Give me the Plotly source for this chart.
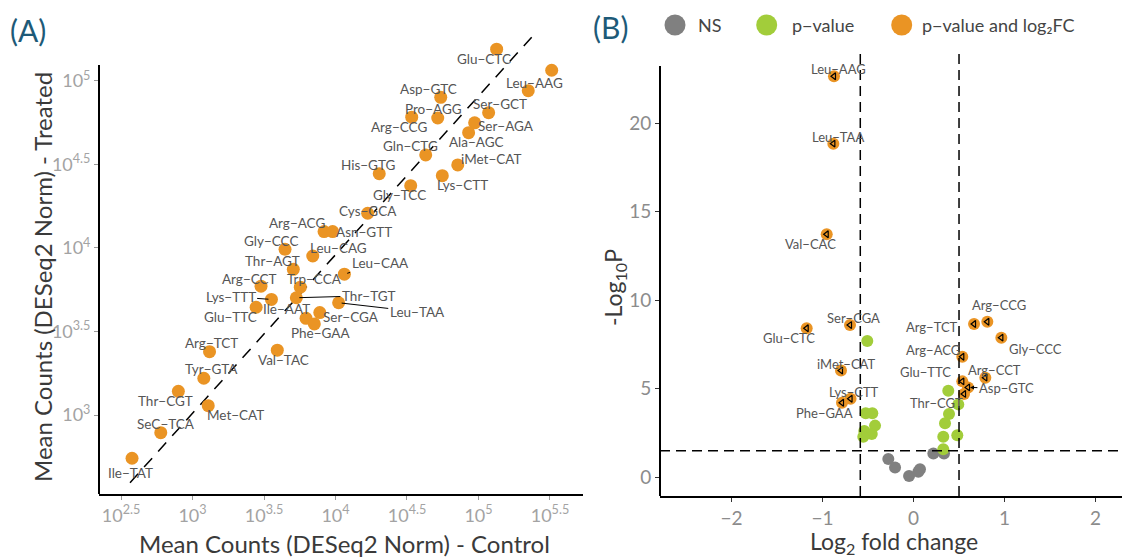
import plotly.graph_objects as go

W, H = 1125, 558
FONT = "Lato"
ORANGE = "#EA9424"
GREEN = "#A2CD3A"
GREY = "#808080"
TEAL = "#1D5A78"
LABEL_C = "#555555"

# ---------------- Panel A data (log10 mean normalised counts) ----------------
trna_a = ["Glu−CTC", "Val−CAC", "Leu−AAG", "Asp−GTC", "Arg−CCG", "Pro−AGG", "Ser−GCT",
          "Ser−AGA", "Ala−AGC", "Gln−CTG", "iMet−CAT", "His−GTG", "Lys−CTT", "Gly−TCC",
          "Cys−GCA", "Arg−ACG", "Asn−GTT", "Gly−CCC", "Leu−CAG", "Thr−AGT", "Leu−CAA",
          "Arg−CCT", "Trp−CCA", "Lys−TTT", "Thr−TGT", "Leu−TAA", "Glu−TTC", "Ile−AAT",
          "Ser−CGA", "Phe−GAA", "Val−TAC", "Arg−TCT", "Tyr−GTA", "Thr−CGT", "Met−CAT",
          "SeC−TCA", "Ile−TAT"]
log10_control = [5.127, 5.512, 5.348, 4.736, 4.533, 4.715, 5.071, 4.973, 4.931, 4.631,
                 4.855, 4.306, 4.747, 4.526, 4.225, 3.920, 3.980, 3.647, 3.841, 3.705,
                 4.062, 3.479, 3.754, 3.552, 3.726, 4.022, 3.445, 3.794, 3.890, 3.852,
                 3.593, 3.119, 3.079, 2.901, 3.110, 2.778, 2.577]
log10_treated = [5.190, 5.064, 4.942, 4.902, 4.783, 4.778, 4.810, 4.749, 4.690, 4.557,
                 4.497, 4.445, 4.433, 4.373, 4.208, 4.098, 4.098, 3.992, 3.952, 3.872,
                 3.843, 3.771, 3.765, 3.692, 3.702, 3.672, 3.645, 3.579, 3.613, 3.545,
                 3.388, 3.379, 3.220, 3.142, 3.056, 2.894, 2.741]
labelled_a = [True, False] + [True] * 35
# dashed reference line end points (log10 control, log10 treated)
ref_x = [2.563, 5.372]
ref_y = [2.595, 5.262]
x_ticks_a = [2.5, 3, 3.5, 4, 4.5, 5, 5.5]
x_ticktext_a = ["10<sup>2.5</sup>", "10<sup>3</sup>", "10<sup>3.5</sup>", "10<sup>4</sup>",
                "10<sup>4.5</sup>", "10<sup>5</sup>", "10<sup>5.5</sup>"]
y_ticks_a = [3, 3.5, 4, 4.5, 5]
y_ticktext_a = ["10<sup>3</sup>", "10<sup>3.5</sup>", "10<sup>4</sup>", "10<sup>4.5</sup>", "10<sup>5</sup>"]

# label placement (pixel offsets from point, up = positive) – style only
lab_dx_a = [-12.7, 0, 6.7, -12.4, -12.4, -4.4, 11.3, 31, 8, -15, 33.3, -11.6, 20.4, -11.7,
            0, -26.7, 31.6, -14.3, 25.6, -21, 35.7, -12, 14, -40.8, 72, 78.6, -25.5, -20,
            31.3, 5.7, 6, 1.5, 7.2, -12.6, 27.4, 5, -1.3]
lab_dy_a = [-10, 0, 7.4, 8, -9.7, 9, 8.4, -3.3, -9.6, 9.3, 5.7, 8.7, -9.3, -9.3,
            2.3, 8.4, 0, 8.6, 8.3, 8.3, 11, 7.3, 8.3, 2.8, 2, -9, -10, 9,
            -4.6, -9.3, -9.8, 8.4, 8.9, -10, -9, 8.7, -14.4]
arrow_a = {"Thr−TGT", "Leu−TAA", "Lys−TTT", "Leu−CAA"}

# ---------------- Panel B data (volcano) ----------------
sig_names = ["Leu−AAG", "Leu−TAA", "Val−CAC", "Glu−CTC", "Ser−CGA", "iMet−CAT", "Lys−CTT",
             "Phe−GAA", "Arg−TCT", "Arg−CCG", "Gly−CCC", "Arg−ACG", "Arg−CCT", "Glu−TTC",
             "Asp−GTC", "Thr−CGT"]
sig_lfc = [-0.874, -0.881, -0.954, -1.174, -0.698, -0.797, -0.692, -0.786, 0.665, 0.811,
           0.965, 0.536, 0.789, 0.536, 0.599, 0.555]
sig_nlp = [22.66, 18.85, 13.73, 8.42, 8.60, 6.03, 4.44, 4.21, 8.66, 8.79, 7.89, 6.81,
           5.63, 5.42, 5.08, 4.71]
p_lfc = [-0.508, -0.525, -0.453, -0.423, -0.541, -0.459, -0.552,
         0.382, 0.492, 0.390, 0.346, 0.327, 0.481, 0.327]
p_nlp = [7.70, 3.62, 3.62, 2.92, 2.62, 2.45, 2.29,
         4.89, 4.12, 3.58, 3.05, 2.29, 2.37, 1.58]
ns_lfc = [-0.277, -0.203, -0.049, 0.053, 0.071, 0.218, 0.335]
ns_nlp = [1.03, 0.56, 0.07, 0.32, 0.45, 1.34, 1.34]
fc_cut = [-0.585, 0.5]
p_cut = 1.5
lab_dx_b = [4.3, 4.4, -16.7, -17.7, 3.3, 5.4, 3.3, -18, -42.3, 12, 33.7, -29, 9, -37.3, 38.4, -27.3]
lab_dy_b = [7, 7, -9.7, -10, 6.7, 6.7, 6.3, -10.6, -2.7, 16.7, -11.6, 6.7, 7.7, 9.4, -1, -9.3]
legend_names = ["NS", "p−value", "p−value and log₂FC"]

# ---------------- geometry (pixels) ----------------
A_L, A_R, A_B, A_T = 99, 583, 494, 30
A_XR = [2.346, 5.731]
A_YR = [2.527, 5.305]
A_YLINE_TOP = 5.096
B_L, B_R, B_B, B_T = 660, 1122, 496, 50
B_XR = [-2.786, 2.291]
B_YR = [-1.056, 24.14]
B_YLINE_TOP = 23.24


def px(x):
    return x / W


def py(y):
    return (H - y) / H


fig = go.Figure()

# Panel A
fig.add_trace(go.Scatter(x=ref_x, y=ref_y, mode="lines", xaxis="x", yaxis="y",
                         line=dict(color="black", width=1.5, dash="12px,9px"),
                         hoverinfo="skip", showlegend=False))
fig.add_trace(go.Scatter(x=log10_control, y=log10_treated, mode="markers", xaxis="x", yaxis="y",
                         marker=dict(color=ORANGE, size=13, line=dict(width=0)),
                         text=trna_a, showlegend=False, cliponaxis=False))

# Panel B
fig.add_trace(go.Scatter(x=ns_lfc, y=ns_nlp, mode="markers", xaxis="x2", yaxis="y2",
                         marker=dict(color=GREY, size=12, line=dict(width=0)),
                         showlegend=False, cliponaxis=False))
fig.add_trace(go.Scatter(x=p_lfc, y=p_nlp, mode="markers", xaxis="x2", yaxis="y2",
                         marker=dict(color=GREEN, size=12, line=dict(width=0)),
                         showlegend=False, cliponaxis=False))
fig.add_trace(go.Scatter(x=sig_lfc, y=sig_nlp, mode="markers", xaxis="x2", yaxis="y2",
                         marker=dict(color=ORANGE, size=12, line=dict(width=0)),
                         text=sig_names, showlegend=False, cliponaxis=False))
fig.add_trace(go.Scatter(x=sig_lfc, y=sig_nlp, mode="markers", xaxis="x2", yaxis="y2",
                         marker=dict(symbol="triangle-left-open", color="black", size=6,
                                     line=dict(width=1.2, color="black")),
                         hoverinfo="skip", showlegend=False, cliponaxis=False))

annotations = []
for name, xv, yv, show, dx, dy in zip(trna_a, log10_control, log10_treated, labelled_a,
                                       lab_dx_a, lab_dy_a):
    if not show:
        continue
    if name in arrow_a:
        annotations.append(dict(x=xv, y=yv, xref="x", yref="y", text=name, showarrow=True,
                                ax=dx, ay=-dy, arrowhead=0, arrowwidth=1, arrowcolor="black",
                                standoff=3, font=dict(family=FONT, size=13.5, color=LABEL_C)))
    else:
        annotations.append(dict(x=xv, y=yv, xref="x", yref="y", text=name, showarrow=False,
                                xshift=dx, yshift=dy,
                                font=dict(family=FONT, size=13.5, color=LABEL_C)))

for name, xv, yv, dx, dy in zip(sig_names, sig_lfc, sig_nlp, lab_dx_b, lab_dy_b):
    if name == "Asp−GTC":
        annotations.append(dict(x=xv, y=yv, xref="x2", yref="y2", text=name, showarrow=True,
                                ax=dx, ay=-dy, arrowhead=2, arrowsize=0.8, arrowwidth=1,
                                arrowcolor="black", standoff=2,
                                font=dict(family=FONT, size=13, color=LABEL_C)))
    else:
        annotations.append(dict(x=xv, y=yv, xref="x2", yref="y2", text=name, showarrow=False,
                                xshift=dx, yshift=dy,
                                font=dict(family=FONT, size=13, color=LABEL_C)))

TITLE_FONT = dict(family=FONT, size=24, color="#3A3A3A")
TITLE_FONT_B = dict(family=FONT, size=23, color="#3A3A3A")
annotations += [
    dict(x=px(344), y=py(543), xref="paper", yref="paper", text="Mean Counts (DESeq2 Norm) - Control",
         showarrow=False, font=TITLE_FONT, xanchor="center", yanchor="middle"),
    dict(x=px(42), y=py(277), xref="paper", yref="paper", text="Mean Counts (DESeq2 Norm) - Treated",
         showarrow=False, font=TITLE_FONT, textangle=-90, xanchor="center", yanchor="middle"),
    dict(x=px(894), y=py(542), xref="paper", yref="paper", text="Log<sub>2</sub> fold change",
         showarrow=False, font=TITLE_FONT_B, xanchor="center", yanchor="middle"),
    dict(x=px(614), y=py(288), xref="paper", yref="paper", text="-Log<sub>10</sub>P",
         showarrow=False, font=TITLE_FONT_B, textangle=-90, xanchor="center", yanchor="middle"),
    dict(x=px(28), y=py(30), xref="paper", yref="paper", text="(A)", showarrow=False,
         font=dict(family=FONT, size=30, color=TEAL), xanchor="center", yanchor="middle"),
    dict(x=px(610), y=py(27), xref="paper", yref="paper", text="(B)", showarrow=False,
         font=dict(family=FONT, size=30, color=TEAL), xanchor="center", yanchor="middle"),
]

shapes = []
# legend (panel B)
leg_cx = [675, 766.7, 901.7]
leg_tx = [696, 790, 920]
leg_col = [GREY, GREEN, ORANGE]
for cx, tx, col, nm in zip(leg_cx, leg_tx, leg_col, legend_names):
    r = 10.5
    shapes.append(dict(type="circle", xref="paper", yref="paper", x0=px(cx - r), x1=px(cx + r),
                       y0=py(25 + r), y1=py(25 - r), fillcolor=col, line=dict(width=0)))
    annotations.append(dict(x=px(tx), y=py(25), xref="paper", yref="paper", text=nm,
                            showarrow=False, xanchor="left", yanchor="middle",
                            font=dict(family=FONT, size=18, color="#444444")))

# axis lines
shapes.append(dict(type="line", xref="paper", yref="y", x0=px(A_L), x1=px(A_L),
                   y0=A_YR[0], y1=A_YLINE_TOP, line=dict(color="black", width=2)))
shapes.append(dict(type="line", xref="paper", yref="y2", x0=px(B_L), x1=px(B_L),
                   y0=B_YR[0], y1=B_YLINE_TOP, line=dict(color="black", width=2)))
# volcano cut-offs
for c in fc_cut:
    shapes.append(dict(type="line", xref="x2", yref="y2", x0=c, x1=c, y0=B_YR[0], y1=B_YR[1],
                       line=dict(color="black", width=1.5, dash="10px,6px")))
shapes.append(dict(type="line", xref="x2", yref="y2", x0=B_XR[0], x1=B_XR[1], y0=p_cut, y1=p_cut,
                   line=dict(color="black", width=1.5, dash="10px,6px")))

TICKFONT_A = dict(family=FONT, size=18, color="#A3A3A3")
TICKFONT_B = dict(family=FONT, size=19, color="#8C8C8C")

fig.update_layout(
    width=W, height=H, margin=dict(l=0, r=0, t=0, b=0),
    paper_bgcolor="white", plot_bgcolor="white",
    font=dict(family=FONT),
    showlegend=False,
    xaxis=dict(domain=[px(A_L), px(A_R)], range=A_XR, tickvals=x_ticks_a, ticktext=x_ticktext_a,
               showgrid=False, zeroline=False, showline=True, linecolor="black", linewidth=2,
               ticks="outside", ticklen=4, tickcolor="#999999", tickfont=TICKFONT_A),
    yaxis=dict(domain=[py(A_B), py(A_T)], range=A_YR, tickvals=y_ticks_a, ticktext=y_ticktext_a,
               showgrid=False, zeroline=False, showline=False,
               ticks="outside", ticklen=4, tickcolor="#999999", tickfont=TICKFONT_A),
    xaxis2=dict(domain=[px(B_L), px(B_R)], range=B_XR, tickvals=[-2, -1, 0, 1, 2],
                ticktext=["−2", "−1", "0", "1", "2"], anchor="y2",
                showgrid=False, zeroline=False, showline=True, linecolor="black", linewidth=2,
                ticks="outside", ticklen=4, tickcolor="#333333", tickfont=TICKFONT_B),
    yaxis2=dict(domain=[py(B_B), py(B_T)], range=B_YR, tickvals=[0, 5, 10, 15, 20], anchor="x2",
                showgrid=False, zeroline=False, showline=False,
                ticks="outside", ticklen=4, tickcolor="#333333", tickfont=TICKFONT_B),
    annotations=annotations, shapes=shapes,
)

fig.write_html(
    "out.html",
    config={"displayModeBar": False},
    post_script="document.body.style.margin='0';document.body.style.padding='0';"
                "document.body.style.overflow='hidden';",
)
